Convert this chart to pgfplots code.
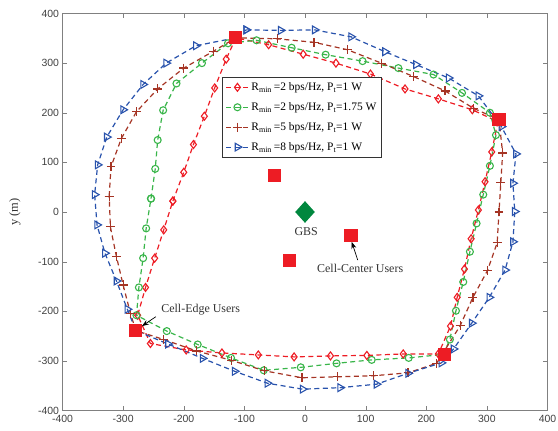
\documentclass[border=0pt]{standalone}
\usepackage{fontspec}
\setmainfont{Liberation Serif}
\newfontfamily\arialfont{Liberation Sans}
\usepackage{pgfplots}
\pgfplotsset{compat=1.18}
\usetikzlibrary{arrows.meta}
\definecolor{cred}{RGB}{237,28,36}
\definecolor{cgreen}{RGB}{57,181,74}
\definecolor{cbrown}{RGB}{165,52,36}
\definecolor{cblue}{RGB}{40,82,172}
\definecolor{cgbs}{RGB}{0,135,62}
\begin{document}
\begin{tikzpicture}
\begin{axis}[name=ax, scale only axis, width=485bp, height=397bp,
  xmin=-400, xmax=400, ymin=-400, ymax=400,
  xtick={-400,-300,...,400}, ytick={-400,-300,...,400},
  axis line style={black!50}, major tick style={black!50}, major tick length=5bp, tick align=inside,
  ticklabel style={font=\arialfont\fontsize{10.5}{12}\selectfont, text=black!75},
  x tick label style={yshift=-1bp},
  /pgf/number format/assume math mode=true,
  ylabel={y (m)},
  ylabel style={at={(axis description cs:-0.098,0.5)}, anchor=center, font=\fontsize{12.5}{14}\selectfont, text=black!80},
  legend style={at={(axis description cs:0.3295,0.839)}, anchor=north west, draw=black!80, fill=white,
    font=\fontsize{11.5}{13}\selectfont, inner sep=3bp, row sep=6.5bp},
  legend cell align=left,
  legend image code/.code={\draw[mark repeat=2,mark phase=2] plot coordinates {(0cm,0cm) (0.4cm,0cm) (0.8cm,0cm)};},
  every axis plot/.append style={line width=1.2bp, dash pattern=on 5bp off 3.5bp},
]
% Rmin=2, Pt=1
\addplot[cred, mark=diamond, mark size=4, mark options={solid, line width=1.1bp}] coordinates {
(-218,22) (-200,80) (-184,136) (-166,193) (-149,250) (-130,308) (-114,351) (-60,337) (-3,318) (51,300) (108,278) (165,248) (220,228) (276,206) (318,182) (308,121) (297,61) (286,4) (274,-54) (263,-115) (251,-172) (240,-230) (220,-286) (162,-286) (102,-289) (42,-290) (-18,-292) (-77,-288) (-137,-284) (-196,-278) (-255,-265) (-276,-208) (-263,-152) (-248,-93) (-233,-36) (-218,22)};
\addlegendentry{R\textsubscript{min}\,=2 bps/Hz, P\textsubscript{t}=1 W}
% Rmin=2, Pt=1.75
\addplot[cgreen, mark=o, mark size=3.5, mark options={solid, line width=1.1bp}] coordinates {
(-254,27) (-247,87) (-243,145) (-234,205) (-212,259) (-170,300) (-127,340) (-80,346) (-22,331) (34,317) (95,304) (154,290) (212,277) (259,240) (305,200) (315,155) (305,93) (294,35) (283,-23) (272,-80) (261,-141) (249,-199) (239,-257) (228,-287) (171,-294) (110,-298) (52,-305) (-7,-313) (-68,-319) (-122,-294) (-177,-267) (-228,-240) (-278,-208) (-274,-152) (-267,-93) (-262,-33) (-254,27)};
\addlegendentry{R\textsubscript{min}\,=2 bps/Hz, P\textsubscript{t}=1.75 W}
% Rmin=5, Pt=1
\addplot[cbrown, mark=+, mark size=4.5, mark options={solid, line width=1.2bp}] coordinates {
(-323,32) (-320,91) (-303,148) (-278,202) (-243,248) (-200,290) (-151,324) (-114,351) (-46,349) (15,342) (70,327) (126,300) (179,273) (231,244) (278,209) (320,186) (326,119) (323,59) (320,0) (317,-62) (301,-118) (277,-172) (256,-229) (217,-305) (170,-324) (113,-330) (54,-332) (-5,-334) (-67,-320) (-121,-299) (-179,-280) (-233,-257) (-279,-239) (-288,-204) (-300,-147) (-311,-90) (-321,-30) (-323,32)};
\addlegendentry{R\textsubscript{min}\,=5 bps/Hz, P\textsubscript{t}=1 W}
% Rmin=8, Pt=1
\addplot[cblue, mark=triangle, mark size=4.5, mark options={solid, rotate=-90, line width=1.1bp}] coordinates {
(-97,367) (-40,366) (16,367) (76,353) (132,323) (183,297) (237,270) (286,234) (324,172) (348,117) (343,58) (346,1) (343,-60) (330,-117) (304,-172) (275,-224) (245,-276) (225,-304) (170,-325) (118,-347) (58,-354) (-4,-357) (-62,-345) (-116,-321) (-169,-295) (-226,-266) (-279,-239) (-293,-196) (-311,-139) (-330,-83) (-343,-26) (-347,35) (-342,95) (-327,151) (-300,206) (-267,257) (-229,300) (-180,335) (-114,351) (-97,367)};
\addlegendentry{R\textsubscript{min}\,=8 bps/Hz, P\textsubscript{t}=1 W}
% users
\addplot[only marks, forget plot, mark=square*, mark size=6, mark options={solid, draw=cred, fill=cred}] coordinates {
(-114,351) (320,186) (-279,-239) (230,-287) (-50,74) (-25,-98) (76,-48)};
% GBS
\addplot[only marks, forget plot, mark=diamond*, mark size=10, mark options={solid, xscale=1.2, draw=cgbs, fill=cgbs}] coordinates {(0,0)};
\node[font=\fontsize{12}{14}\selectfont, text=black!80] at (axis cs:2,-40) {GBS};
\node[font=\fontsize{12}{14}\selectfont, text=black!80] at (axis cs:91,-113) {Cell-Center Users};
\node[font=\fontsize{12}{14}\selectfont, text=black!80] at (axis cs:-172,-197) {Cell-Edge Users};
\draw[black, line width=0.7bp, -{Stealth[length=7bp,width=5bp]}] (axis cs:87,-97) -- (axis cs:77,-60);
\draw[black, line width=0.7bp, -{Stealth[length=7bp,width=5bp]}] (axis cs:-246,-211) -- (axis cs:-269,-230);
\end{axis}
\pgfresetboundingbox
\path[use as bounding box] ([shift={(-62.5bp,-20.5bp)}]ax.south west) rectangle ([shift={(10.5bp,13.5bp)}]ax.north east);
\end{tikzpicture}
\end{document}
